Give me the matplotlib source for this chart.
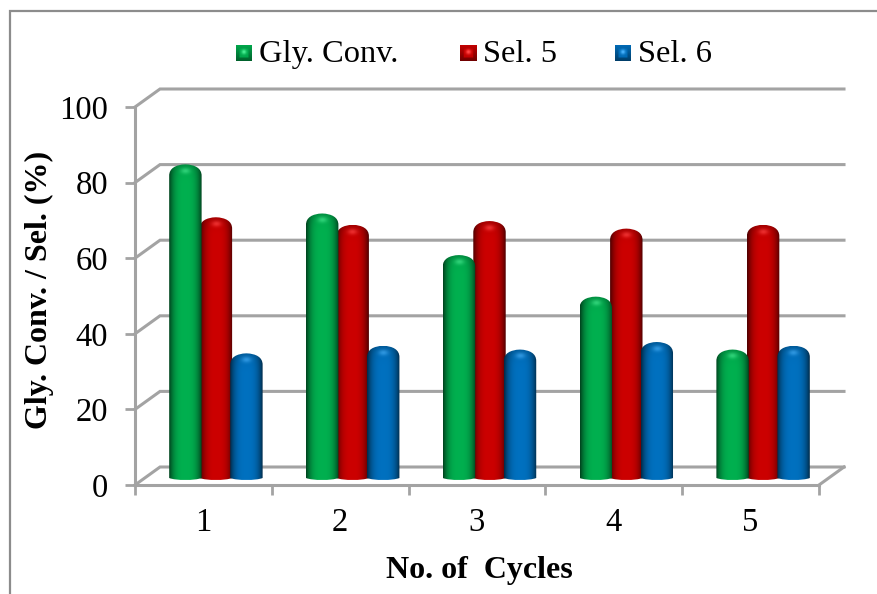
#!/usr/bin/env python3
"""Glycerol conversion and selectivity over reuse cycles, drawn as fake 3D cylinders."""

import numpy as np
import matplotlib
matplotlib.use('Agg')
import matplotlib.pyplot as plt
from matplotlib.lines import Line2D
from matplotlib.patches import PathPatch
from matplotlib.path import Path

cycles = [1, 2, 3, 4, 5]
gly_conv = [82, 69, 58, 47, 33]
sel_5 = [68, 66, 67, 65, 66]
sel_6 = [32, 34, 33, 35, 34]
y_ticks = [0, 20, 40, 60, 80, 100]
series_names = ['Gly. Conv.', 'Sel. 5', 'Sel. 6']

plt.rcParams['font.family'] = ['Liberation Serif', 'DejaVu Serif']

W, H = 877, 594
GRID = '#a3a3a3'
BASE_COLORS = [(0.0, 0.69, 0.31), (0.80, 0.0, 0.0), (0.0, 0.44, 0.75)]
BAR_W = 0.237
BAR_STEP = 0.223
DEPTH_X, DEPTH_Y = 25 / 136.8, 18 / 3.78


def shade_image(color, ratio):
    """Horizontal cylinder shading with a lighter glow in the top cap."""
    u = np.linspace(-1, 1, 64)
    v = np.linspace(0, 1, 400)  # 0 at bottom, 1 at top
    uu, vv = np.meshgrid(u, v)
    dark = 1 - 0.62 * np.abs(uu) ** 3
    cap = np.clip((vv - (1 - ratio)) / ratio, 0, 1)
    top_dark = 1 - 0.2 * cap ** 3
    glow = np.exp(-(uu / 0.3) ** 2 - ((cap - 0.72) / 0.13) ** 2) * (vv > 1 - ratio)
    rgb = np.zeros(uu.shape + (3,))
    for i in range(3):
        rgb[..., i] = color[i] * dark * top_dark + 0.18 * glow
    return np.clip(rgb, 0, 1)


def draw_bar(ax, x, val, color, z):
    left, right = x - BAR_W / 2, x + BAR_W / 2
    bottom = 1.85
    top = val + DEPTH_Y / 2 + 0.45
    ry = 3.0
    foot = 0.7
    verts = [(left, bottom), (left, top - ry),
             (left, top - 0.35 * ry), (left + 0.2 * BAR_W, top - 0.03 * ry), (x, top),
             (right - 0.2 * BAR_W, top - 0.03 * ry), (right, top - 0.35 * ry), (right, top - ry),
             (right, bottom),
             (right - 0.2 * BAR_W, bottom - foot), (left + 0.2 * BAR_W, bottom - foot), (left, bottom),
             (left, bottom)]
    codes = [Path.MOVETO, Path.LINETO,
             Path.CURVE4, Path.CURVE4, Path.CURVE4,
             Path.CURVE4, Path.CURVE4, Path.CURVE4,
             Path.LINETO,
             Path.CURVE4, Path.CURVE4, Path.CURVE4,
             Path.CLOSEPOLY]
    patch = PathPatch(Path(verts, codes), fc='none', ec='none', transform=ax.transData)
    ax.add_patch(patch)
    low, high = bottom - foot, top
    img = ax.imshow(shade_image(color, 2.0 * ry / (high - low)), extent=(left, right, low, high),
                    origin='lower', aspect='auto', zorder=z, interpolation='bilinear')
    img.set_clip_path(patch)


fig = plt.figure(figsize=(W / 100, H / 100), dpi=100, facecolor='white')
ax = fig.add_axes([135 / W, 1 - 485 / H, 684 / W, 378 / H])
ax.set_facecolor('none')

# chart frame, only left and top edges fall inside the picture
fig.add_artist(Line2D([9.5 / W, 9.5 / W, 1], [0, 1 - 11 / H, 1 - 11 / H], color='#8c8c8c', lw=1.6,
                      solid_joinstyle='miter'))

# walls and floor
x0, x1 = 0.5, 5.5
for v in y_ticks:
    ax.plot([x0, x0 + DEPTH_X, x1 + DEPTH_X], [v, v + DEPTH_Y, v + DEPTH_Y],
            color=GRID, lw=2.2, clip_on=False, zorder=1, solid_joinstyle='miter')
ax.plot([x1, x1 + DEPTH_X], [0, DEPTH_Y], color=GRID, lw=2.2, clip_on=False, zorder=1)

for spine in ['top', 'right']:
    ax.spines[spine].set_visible(False)
for spine in ['left', 'bottom']:
    ax.spines[spine].set_color(GRID)
    ax.spines[spine].set_linewidth(2.2)

ax.set_yticks(y_ticks)
ax.set_xticks(np.arange(0.5, 6.0, 1.0))
ax.set_xticklabels([])
ax.set_xticks(cycles, labels=[str(c) for c in cycles], minor=True)
ax.tick_params(axis='both', which='major', length=7.2, width=2, color=GRID, labelsize=23.5)
ax.tick_params(axis='y', which='major', pad=12)
ax.tick_params(axis='x', which='minor', length=0, labelsize=23.5, pad=16)
ax.set_xlabel('No. of  Cycles', fontsize=23, fontweight='bold', labelpad=13, x=0.504)
ax.set_ylabel('Gly. Conv. / Sel. (%)', fontsize=23, fontweight='bold', labelpad=4, y=0.516)

# bars, offset into the depth of the floor; green sits over red, blue over red
orders = [5, 3, 4]
for i, vals in enumerate([gly_conv, sel_5, sel_6]):
    for c, v in zip(cycles, vals):
        draw_bar(ax, c + DEPTH_X / 2 + (i - 1) * BAR_STEP, v, BASE_COLORS[i], orders[i])
ax.set_xlim(0.5, 5.5)
ax.set_ylim(0, 100)

# legend
swatch_x = [236, 460, 615]
for name, sx, color in zip(series_names, swatch_x, BASE_COLORS):
    lax = fig.add_axes([sx / W, 1 - 61 / H, 16 / W, 16 / H])
    lax.axis('off')
    u = np.linspace(-1, 1, 32)
    uu, vv = np.meshgrid(u, u)
    edge = np.maximum(np.abs(uu), np.abs(vv))
    shade = np.where(edge > 0.6, 0.75 + 0.2 * vv, 0.95)
    glow = np.exp(-(uu / 0.3) ** 2 - ((vv - 0.15) / 0.3) ** 2) * 0.3
    rgb = np.clip(np.dstack([c * shade + glow for c in color]), 0, 1)
    lax.imshow(rgb, origin='lower', aspect='auto')
    fig.text((sx + 23) / W, 1 - 62 / H, name, fontsize=23.4, va='baseline', ha='left')

fig.savefig('out.png', dpi=100, facecolor='white')
